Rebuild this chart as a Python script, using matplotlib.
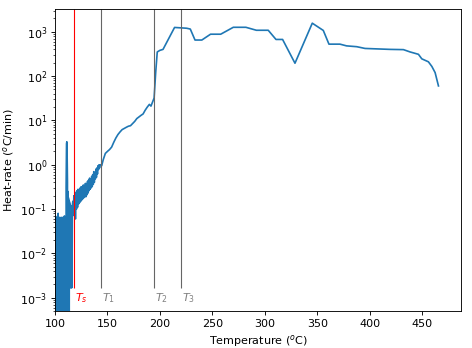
import numpy as np
import matplotlib
matplotlib.use("Agg")
import matplotlib.pyplot as plt

# Temperature (degC) and heat-rate (degC/min)
temp_noise = [100.0, 100.25, 100.5, 100.75, 101.0, 101.25, 101.5, 101.75, 102.0, 102.25,
              102.5, 102.75, 103.0, 103.25, 103.5, 103.75, 104.0, 104.25, 104.5, 104.75,
              105.0, 105.25, 105.5, 105.75, 106.0, 106.25, 106.5, 106.75, 107.0, 107.25,
              107.5, 107.75, 108.0, 108.25, 108.5, 108.75, 109.0, 109.25, 109.5, 109.75,
              110.0, 110.25]
rate_noise = [0.07, -0.01, 0.065, -0.01, 0.06, -0.01, 0.065, -0.01, 0.06, -0.01,
              0.07, -0.01, 0.08, -0.01, 0.06, -0.01, 0.06, -0.01, 0.065, -0.01,
              0.06, -0.01, 0.06, -0.01, 0.065, -0.01, 0.06, -0.01, 0.06, -0.01,
              0.065, -0.01, 0.06, -0.01, 0.06, -0.01, 0.07, -0.01, 0.06, -0.01,
              0.06, -0.01]

temp_spike = [110.6, 111.0, 111.3, 111.6, 111.9, 112.05, 112.2, 112.35, 112.5, 112.65,
              112.8, 112.95, 113.1, 113.25, 113.6, 114.0, 114.4, 114.6, 114.8, 115.0,
              115.2, 115.4, 115.6, 115.8, 116.0, 116.2, 116.6]
rate_spike = [0.3, 3.0, 3.3, 1.5, 0.4, -0.01, 0.25, -0.01, 0.2, -0.01,
              0.18, -0.01, 0.16, -0.01, 0.15, 0.14, 0.13, 0.0017, 0.12, 0.0017,
              0.12, 0.0017, 0.11, 0.0017, 0.11, 0.0017, 0.12]

temp_rise = [117.0, 117.5, 118.0, 118.5, 119.0, 119.5, 120.0, 120.5, 121.0, 121.5,
             122.0, 122.5, 123.0, 123.5, 124.0, 124.5, 125.0, 125.5, 126.0, 126.5,
             127.0, 127.5, 128.0, 128.5, 129.0, 129.5, 130.0, 130.5, 131.0, 131.5,
             132.0, 132.5, 133.0, 133.5, 134.0, 134.5, 135.0, 135.5, 136.0, 136.5,
             137.0, 137.5, 138.0, 138.5, 139.0, 139.5, 140.0, 140.5, 141.0, 141.5,
             142.0, 142.5, 143.0]
rate_rise = [0.15, 0.08, 0.2, 0.07, 0.22, 0.06, 0.24, 0.1, 0.26, 0.11,
             0.28, 0.13, 0.27, 0.14, 0.3, 0.15, 0.32, 0.16, 0.3, 0.17,
             0.35, 0.18, 0.33, 0.19, 0.38, 0.19, 0.36, 0.21, 0.42, 0.23,
             0.45, 0.26, 0.5, 0.28, 0.48, 0.3, 0.55, 0.32, 0.6, 0.36,
             0.7, 0.4, 0.65, 0.48, 0.8, 0.52, 0.85, 0.62, 0.95, 0.78,
             1.0, 0.85, 1.0]

temp_main = [143.6, 144.5, 146.0, 148.0, 150.0, 152.0, 154.0, 156.0, 158.0, 160.0,
             162.0, 164.0, 166.0, 168.0, 170.0, 172.0, 174.0, 176.0, 178.0, 180.0,
             182.0, 184.0, 186.0, 188.0, 190.0, 191.5, 193.0, 194.5, 196.0, 197.5,
             200.0, 203.0, 214.0, 225.5, 229.0, 233.5, 240.0, 248.3, 258.0, 270.0,
             282.0, 292.0, 303.3, 310.7, 317.0, 328.8, 345.3, 355.8, 361.2, 371.7,
             378.0, 387.7, 395.6, 406.8, 419.5, 432.2, 438.6, 446.5, 449.7, 456.0,
             459.3, 462.4, 465.6]
rate_main = [1.0, 0.95, 1.3, 1.8, 2.0, 2.2, 2.5, 3.2, 4.0, 4.8,
             5.5, 6.2, 6.6, 7.0, 7.4, 7.6, 8.5, 9.5, 11.0, 12.0,
             13.0, 14.0, 17.0, 20.0, 23.0, 21.0, 26.0, 32.0, 120.0, 350.0,
             380.0, 400.0, 1250.0, 1200.0, 1150.0, 650.0, 650.0, 880.0, 880.0, 1260.0,
             1260.0, 1080.0, 1080.0, 670.0, 670.0, 195.0, 1560.0, 1070.0, 525.0, 525.0,
             480.0, 460.0, 420.0, 410.0, 400.0, 395.0, 350.0, 310.0, 245.0, 210.0,
             165.0, 120.0, 60.0]

marker_temps = [118.1, 143.6, 194.5, 220.0]
marker_labels = [r'$T_s$', r'$T_1$', r'$T_2$', r'$T_3$']
marker_line_colors = ['red', '0.4', '0.4', '0.4']
marker_text_colors = ['red', 'gray', 'gray', 'gray']

temperature = np.array(temp_noise + temp_spike + temp_rise + temp_main)
heat_rate = np.array(rate_noise + rate_spike + rate_rise + rate_main)

DPI = 80
fig = plt.figure(figsize=(472 / DPI, 348 / DPI), dpi=DPI)
ax = fig.add_axes([0.1165, 0.106, 0.86, 0.868])

ax.plot(temperature, heat_rate, color='#1f77b4', lw=1.5)
ax.set_yscale('log', nonpositive='clip')
ax.set_xlim(100, 487)
ax.set_ylim(5.0e-4, 3250)

for t, lab, lc, tc in zip(marker_temps, marker_labels, marker_line_colors, marker_text_colors):
    ax.vlines(t, 1.7e-3, 3250, color=lc, lw=1)
    ax.text(t + 1.0, 1.0e-3, lab, color=tc, va='center', ha='left', fontsize=10)

ax.set_xlabel(r'Temperature ($^o$C)')
ax.set_ylabel(r'Heat-rate ($^o$C/min)')

fig.savefig('out.png', dpi=DPI)
